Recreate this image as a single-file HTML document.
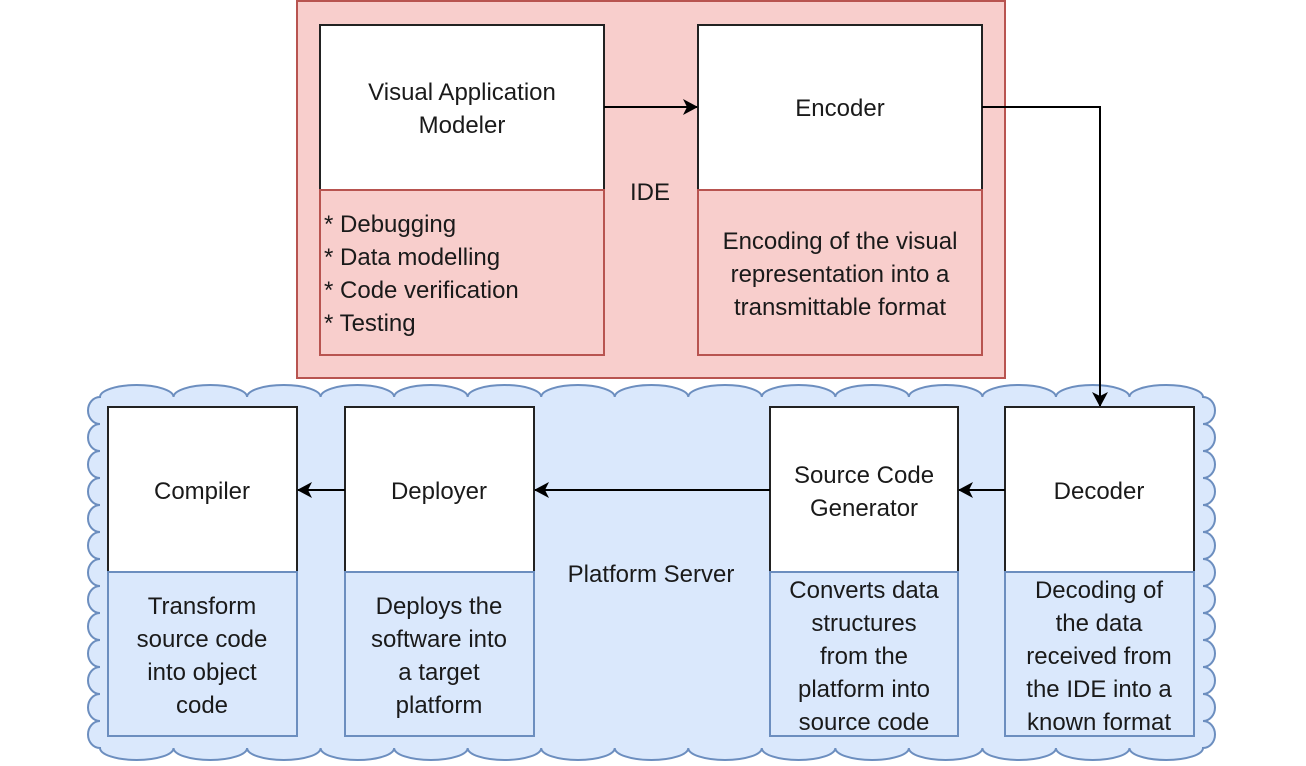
<!DOCTYPE html>
<html><head><meta charset="utf-8"><style>
html,body{margin:0;padding:0;background:#fff;}
svg{display:block;}
text{font-family:"Liberation Sans",Arial,sans-serif;font-size:24px;fill:#1a1a1a;}
</style></head><body>
<svg id="s" width="1306" height="766" viewBox="0 0 1306 766" xmlns="http://www.w3.org/2000/svg">
<defs><marker id="a" markerWidth="16" markerHeight="16" refX="14" refY="8" orient="auto" markerUnits="userSpaceOnUse"><path d="M0,0 L15,8 L0,16 L4,8 Z" fill="#000"/></marker></defs>
<path id="cloud" fill="#dae8fc" stroke="#6c8ebf" stroke-width="2" d=""/>
<rect x="297" y="1" width="708" height="377" fill="#f8cecc" stroke="#b85450" stroke-width="2"/>
<rect x="320" y="25" width="284" height="165" fill="#fff" stroke="#222" stroke-width="2"/>
<rect x="320" y="190" width="284" height="165" fill="#f8cecc" stroke="#b85450" stroke-width="2"/>
<rect x="698" y="25" width="284" height="165" fill="#fff" stroke="#222" stroke-width="2"/>
<rect x="698" y="190" width="284" height="165" fill="#f8cecc" stroke="#b85450" stroke-width="2"/>
<text x="462" y="100" text-anchor="middle">Visual Application</text>
<text x="462" y="133" text-anchor="middle">Modeler</text>
<text x="840" y="116" text-anchor="middle">Encoder</text>
<text x="650" y="200" text-anchor="middle">IDE</text>
<text x="324" y="232">* Debugging</text>
<text x="324" y="265">* Data modelling</text>
<text x="324" y="298">* Code verification</text>
<text x="324" y="331">* Testing</text>
<text x="840" y="249" text-anchor="middle">Encoding of the visual</text>
<text x="840" y="282" text-anchor="middle">representation into a</text>
<text x="840" y="315" text-anchor="middle">transmittable format</text>
<line x1="604" y1="107" x2="697" y2="107" stroke="#000" stroke-width="2" marker-end="url(#a)"/>
<polyline points="982,107 1100,107 1100,406" fill="none" stroke="#000" stroke-width="2" marker-end="url(#a)"/>
<g stroke-width="2">
<rect x="108" y="407" width="189" height="165" fill="#fff" stroke="#222"/>
<rect x="108" y="572" width="189" height="164" fill="#dae8fc" stroke="#6c8ebf"/>
<rect x="345" y="407" width="189" height="165" fill="#fff" stroke="#222"/>
<rect x="345" y="572" width="189" height="164" fill="#dae8fc" stroke="#6c8ebf"/>
<rect x="770" y="407" width="188" height="165" fill="#fff" stroke="#222"/>
<rect x="770" y="572" width="188" height="164" fill="#dae8fc" stroke="#6c8ebf"/>
<rect x="1005" y="407" width="189" height="165" fill="#fff" stroke="#222"/>
<rect x="1005" y="572" width="189" height="164" fill="#dae8fc" stroke="#6c8ebf"/>
</g>
<text x="202" y="499" text-anchor="middle">Compiler</text>
<text x="439" y="499" text-anchor="middle">Deployer</text>
<text x="864" y="483" text-anchor="middle">Source Code</text>
<text x="864" y="516" text-anchor="middle">Generator</text>
<text x="1099" y="499" text-anchor="middle">Decoder</text>
<text x="651" y="582" text-anchor="middle">Platform Server</text>
<text x="202" y="614" text-anchor="middle">Transform</text>
<text x="202" y="647" text-anchor="middle">source code</text>
<text x="202" y="680" text-anchor="middle">into object</text>
<text x="202" y="713" text-anchor="middle">code</text>
<text x="439" y="614" text-anchor="middle">Deploys the</text>
<text x="439" y="647" text-anchor="middle">software into</text>
<text x="439" y="680" text-anchor="middle">a target</text>
<text x="439" y="713" text-anchor="middle">platform</text>
<text x="864" y="598" text-anchor="middle">Converts data</text>
<text x="864" y="631" text-anchor="middle">structures</text>
<text x="864" y="664" text-anchor="middle">from the</text>
<text x="864" y="697" text-anchor="middle">platform into</text>
<text x="864" y="730" text-anchor="middle">source code</text>
<text x="1099" y="598" text-anchor="middle">Decoding of</text>
<text x="1099" y="631" text-anchor="middle">the data</text>
<text x="1099" y="664" text-anchor="middle">received from</text>
<text x="1099" y="697" text-anchor="middle">the IDE into a</text>
<text x="1099" y="730" text-anchor="middle">known format</text>
<line x1="1005" y1="490" x2="959" y2="490" stroke="#000" stroke-width="2" marker-end="url(#a)"/>
<line x1="770" y1="490" x2="535" y2="490" stroke="#000" stroke-width="2" marker-end="url(#a)"/>
<line x1="345" y1="490" x2="298" y2="490" stroke="#000" stroke-width="2" marker-end="url(#a)"/>
</svg>
<script>
(function(){
var L=100,R=1203,T=397,B=748;
var d="M"+L+","+T;
var n=15,dx=(R-L)/n;
for(var i=0;i<n;i++)d+=" a"+dx/2+",12 0 0 1 "+dx+",0";
var m=13,dy=(B-T)/m;
for(var i=0;i<m;i++)d+=" a12,"+dy/2+" 0 0 1 0,"+dy;
for(var i=0;i<n;i++)d+=" a"+dx/2+",12 0 0 1 "+(-dx)+",0";
for(var i=0;i<m;i++)d+=" a12,"+dy/2+" 0 0 1 0,"+(-dy);
d+=" Z";
document.getElementById("cloud").setAttribute("d",d);
})();
</script>
</body></html>
